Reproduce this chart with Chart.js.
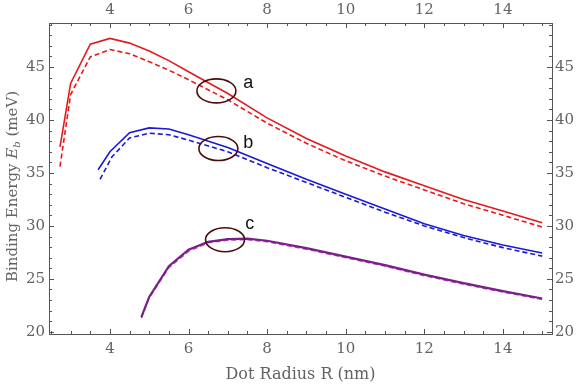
<!DOCTYPE html>
<html lang="en">
<head>
    <meta charset="UTF-8">
    <title>Binding Energy vs Dot Radius</title>
    <script src="https://cdn.jsdelivr.net/npm/chart.js@4.4.0/dist/chart.umd.js"></script>
    <style>
        html, body { margin: 0; padding: 0; background: #fff; }
        #wrap { width: 576px; height: 384px; }
    </style>
</head>
<body>
    <div id="wrap"><canvas id="bindingChart" width="576" height="384"></canvas></div>

    <script>
        // Curve a (red)
        const aSolidX = [2.73, 3.0, 3.5, 4.0, 4.5, 5.0, 5.5, 6.0, 7.0, 8.0, 9.0, 10.0, 11.0, 12.0, 13.0, 14.0, 15.0];
        const aSolidY = [37.45, 43.45, 47.15, 47.7, 47.25, 46.5, 45.6, 44.55, 42.5, 40.2, 38.25, 36.6, 35.1, 33.8, 32.5, 31.4, 30.3];
        const aDashY  = [35.6, 42.4, 45.95, 46.65, 46.25, 45.5, 44.7, 43.8, 41.9, 39.7, 37.8, 36.15, 34.7, 33.4, 32.1, 31.0, 29.9];

        // Curve b (blue)
        const bSolidX = [3.7, 4.0, 4.5, 5.0, 5.5, 6.0, 7.0, 8.0, 9.0, 10.0, 11.0, 12.0, 13.0, 14.0, 15.0];
        const bSolidY = [35.3, 37.0, 38.8, 39.25, 39.15, 38.6, 37.4, 35.9, 34.4, 33.0, 31.6, 30.2, 29.1, 28.2, 27.45];
        const bDashX  = [3.75, 4.05, 4.5, 5.0, 5.5, 6.0, 7.0, 8.0, 9.0, 10.0, 11.0, 12.0, 13.0, 14.0, 15.0];
        const bDashY  = [34.4, 36.5, 38.3, 38.75, 38.6, 38.1, 37.0, 35.5, 34.1, 32.7, 31.3, 30.0, 28.9, 27.95, 27.15];

        // Curve c (purple)
        const cSolidX = [4.8, 5.0, 5.5, 6.0, 6.5, 7.0, 7.5, 8.0, 9.0, 10.0, 11.0, 12.0, 13.0, 14.0, 15.0];
        const cSolidY = [21.4, 23.3, 26.2, 27.75, 28.5, 28.75, 28.8, 28.6, 27.9, 27.1, 26.3, 25.4, 24.6, 23.85, 23.15];
        const cDashY  = [21.3, 23.2, 26.05, 27.6, 28.4, 28.65, 28.7, 28.5, 27.8, 27.0, 26.2, 25.3, 24.5, 23.75, 23.05];

        // Axis ticks
        const xTicks = [4, 6, 8, 10, 12, 14];
        const yTicks = [20, 25, 30, 35, 40, 45];

        // Ellipse markers and their letters (data coordinates)
        const markLabels = ['a', 'b', 'c'];
        const markCenterX = [6.71, 6.76, 6.93];
        const markCenterY = [42.74, 37.3, 28.7];
        const labelX = [7.52, 7.52, 7.56];
        const labelY = [43.46, 37.8, 30.2];

        const pts = (xs, ys) => xs.map((x, i) => ({ x: x, y: ys[i] }));

        const axisColor = '#555555';
        const textColor = '#636363';
        const serif = '"DejaVu Serif", serif';

        const fixedTicks = list => scale => { scale.ticks = list.map(v => ({ value: v })); };

        // Axis frame ticks drawn inward, Mathematica style
        const frameTicks = {
            id: 'frameTicks',
            afterDraw(chart) {
                const { ctx, chartArea: a } = chart;
                const xs = chart.scales.x, ys = chart.scales.y;
                ctx.save();
                ctx.strokeStyle = axisColor;
                ctx.lineWidth = 1;
                ctx.beginPath();
                for (let v = 2.5; v <= 15.25; v += 0.5) {
                    const px = Math.round(xs.getPixelForValue(v)) + 0.5;
                    const len = (v % 2 === 0) ? 5 : 3;
                    ctx.moveTo(px, a.bottom); ctx.lineTo(px, a.bottom - len);
                    ctx.moveTo(px, a.top); ctx.lineTo(px, a.top + len);
                }
                for (let v = 20; v <= 49; v += 1) {
                    const py = Math.round(ys.getPixelForValue(v)) + 0.5;
                    const len = (v % 5 === 0) ? 5 : 3;
                    ctx.moveTo(a.left, py); ctx.lineTo(a.left + len, py);
                    ctx.moveTo(a.right, py); ctx.lineTo(a.right - len, py);
                }
                ctx.stroke();

                // y axis title with italic E and subscript b
                ctx.fillStyle = textColor;
                ctx.translate(13, (a.top + a.bottom) / 2 + 8);
                ctx.rotate(-Math.PI / 2);
                const parts = [
                    { t: 'Binding Energy ', f: '15px ' + serif, dy: 0 },
                    { t: 'E', f: 'italic 15px ' + serif, dy: 0 },
                    { t: 'b', f: 'italic 10px ' + serif, dy: 4 },
                    { t: ' (meV)', f: '15px ' + serif, dy: 0 }
                ];
                let total = 0;
                parts.forEach(p => { ctx.font = p.f; total += ctx.measureText(p.t).width; });
                let cx = -total / 2;
                ctx.textBaseline = 'middle';
                parts.forEach(p => {
                    ctx.font = p.f;
                    ctx.fillText(p.t, cx, p.dy);
                    cx += ctx.measureText(p.t).width;
                });
                ctx.restore();
            }
        };

        // Ellipses around the curves and their letters
        const markers = {
            id: 'markers',
            afterDatasetsDraw(chart) {
                const { ctx } = chart;
                const xs = chart.scales.x, ys = chart.scales.y;
                ctx.save();
                ctx.strokeStyle = '#4a0d0d';
                ctx.lineWidth = 1.6;
                markLabels.forEach((lab, i) => {
                    const cx = xs.getPixelForValue(markCenterX[i]);
                    const cy = ys.getPixelForValue(markCenterY[i]);
                    ctx.beginPath();
                    ctx.ellipse(cx, cy, 19.5, 12, 0, 0, Math.PI * 2);
                    ctx.stroke();
                    ctx.fillStyle = '#111';
                    ctx.font = '18px "Liberation Sans", Arial, sans-serif';
                    ctx.textAlign = 'center';
                    ctx.textBaseline = 'middle';
                    ctx.fillText(lab, xs.getPixelForValue(labelX[i]), ys.getPixelForValue(labelY[i]));
                });
                ctx.restore();
            }
        };

        const line = (label, data, color, dashed, width) => ({
            label: label,
            data: data,
            borderColor: color,
            borderWidth: width || 1.6,
            borderDash: dashed ? [5, 3] : [],
            pointRadius: 0,
            fill: false,
            tension: 0
        });

        const tickFont = { family: serif, size: 15 };
        const noGrid = { display: false, drawTicks: false, tickLength: 0 };

        new Chart(document.getElementById('bindingChart'), {
            type: 'line',
            data: {
                datasets: [
                    line('a', pts(aSolidX, aSolidY), '#e5191c', false),
                    line('a dashed', pts(aSolidX, aDashY), '#e5191c', true),
                    line('b', pts(bSolidX, bSolidY), '#1a1ad6', false),
                    line('b dashed', pts(bDashX, bDashY), '#1a1ad6', true),
                    line('c', pts(cSolidX, cSolidY), '#7a1e88', false, 2.2),
                    line('c dashed', pts(cSolidX, cDashY), '#b548c4', true, 1.4)
                ]
            },
            options: {
                responsive: false,
                animation: false,
                layout: { padding: 0 },
                plugins: { legend: { display: false }, tooltip: { enabled: false } },
                scales: {
                    x: {
                        type: 'linear', position: 'bottom', min: 2.45, max: 15.25,
                        afterBuildTicks: fixedTicks(xTicks),
                        afterFit: s => { s.height = 50; },
                        grid: noGrid,
                        border: { display: true, color: axisColor },
                        ticks: { font: tickFont, color: textColor, padding: 6, maxRotation: 0 },
                        title: { display: true, text: 'Dot Radius R (nm)', font: { family: serif, size: 16 }, color: textColor, padding: { top: 0, bottom: 0 } }
                    },
                    x2: {
                        type: 'linear', position: 'top', min: 2.45, max: 15.25,
                        afterBuildTicks: fixedTicks(xTicks),
                        afterFit: s => { s.height = 23; },
                        grid: noGrid,
                        border: { display: true, color: axisColor },
                        ticks: { font: tickFont, color: textColor, padding: 4, maxRotation: 0 }
                    },
                    y: {
                        type: 'linear', position: 'left', min: 19.8, max: 49.15,
                        afterBuildTicks: fixedTicks(yTicks),
                        afterFit: s => { s.width = 49; },
                        grid: noGrid,
                        border: { display: true, color: axisColor },
                        ticks: { font: tickFont, color: textColor, padding: 4 }
                    },
                    y2: {
                        type: 'linear', position: 'right', min: 19.8, max: 49.15,
                        afterBuildTicks: fixedTicks(yTicks),
                        afterFit: s => { s.width = 24; },
                        grid: noGrid,
                        border: { display: true, color: axisColor },
                        ticks: { font: tickFont, color: textColor, padding: 3 }
                    }
                }
            },
            plugins: [frameTicks, markers]
        });
    </script>
</body>
</html>
